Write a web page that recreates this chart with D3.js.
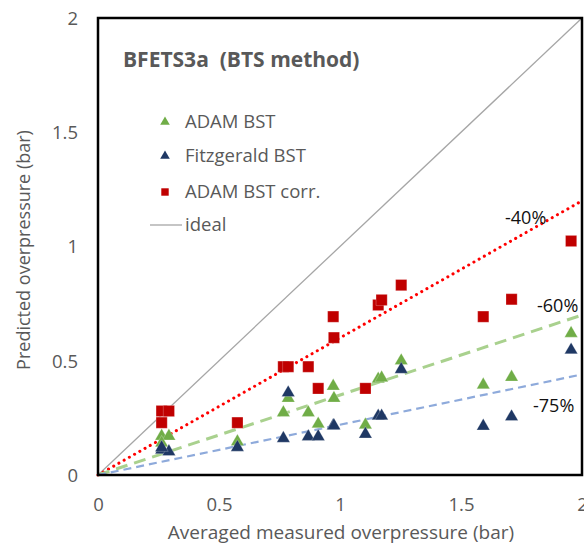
<!DOCTYPE html>
<html><head><meta charset="utf-8">
<script src="https://cdn.jsdelivr.net/npm/d3@7"></script>
<style>body{margin:0;background:#fff;overflow:hidden} text{font-family:"Open Sans",sans-serif}</style>
</head><body><svg id="c" width="584" height="543"></svg>
<script>
// ---- data ----
const measured   = [0.263,0.293,0.263,0.576,0.766,0.786,0.869,0.910,0.972,0.975,1.105,1.158,1.172,1.253,1.592,1.709,1.955];
const adamBST    = [0.170,0.170,0.140,0.146,0.273,0.336,0.273,0.223,0.389,0.336,0.219,0.420,0.425,0.500,0.394,0.428,0.620];
const fitzBST    = [0.110,0.102,0.120,0.121,0.160,0.360,0.168,0.168,0.216,0.216,0.179,0.258,0.258,0.462,0.214,0.255,0.547];
const adamCorr   = [0.280,0.280,0.229,0.229,0.474,0.474,0.474,0.379,0.693,0.601,0.379,0.744,0.766,0.831,0.693,0.769,1.024];
const xTicks = [0,0.5,1,1.5,2];
const yTicks = [0,0.5,1,1.5,2];
const refNames  = ["-40%","-60%","-75%"];
const refSlopes = [0.60,0.35,0.22];
const idealSlope = 1;
const legendNames = ["ADAM BST","Fitzgerald BST","ADAM BST corr.","ideal"];

// ---- layout ----
const svg = d3.select("#c");
const L=98, R=582, T=18, B=475;
const x = d3.scaleLinear().domain([0,2]).range([L,R]);
const y = d3.scaleLinear().domain([0,2]).range([B,T]);
const grey="#595959";

// reference lines
const lineStyles = [
  {stroke:"#ff0000", w:3, dash:"0.1 5.9", cap:"round"},
  {stroke:"#a9d18e", w:3, dash:"12 7", cap:"butt"},
  {stroke:"#8eaadb", w:2.2, dash:"8 5", cap:"butt"}
];
svg.append("line").attr("x1",x(0)).attr("y1",y(0)).attr("x2",x(2)).attr("y2",y(2*idealSlope))
  .attr("stroke","#a6a6a6").attr("stroke-width",1.3);
refSlopes.forEach((s,i)=>{
  const st=lineStyles[i];
  svg.append("line").attr("x1",x(0)).attr("y1",y(0)).attr("x2",x(2)).attr("y2",y(2*s))
    .attr("stroke",st.stroke).attr("stroke-width",st.w).attr("stroke-dasharray",st.dash)
    .attr("stroke-linecap",st.cap);
});

// markers
const tri = d3.symbol().type(d3.symbolTriangle).size(75);
const sq  = d3.symbol().type(d3.symbolSquare).size(125);
function series(vals, gen, color){
  svg.append("g").selectAll("path").data(vals).join("path")
    .attr("d",gen)
    .attr("transform",(d,i)=>`translate(${x(measured[i])},${y(d)})`)
    .attr("fill",color).attr("stroke","#fff").attr("stroke-width",0.4).attr("stroke-opacity",0.6);
}
series(adamBST, tri, "#70ad47");
series(fitzBST, tri, "#1f3864");
series(adamCorr, sq, "#c00000");

// frame
svg.append("rect").attr("x",L).attr("y",T).attr("width",R-L).attr("height",B-T)
  .attr("fill","none").attr("stroke","#000").attr("stroke-width",2.5);

// axes
const ax = svg.append("g").attr("transform",`translate(0,${B+20})`)
  .call(d3.axisBottom(x).tickValues(xTicks).tickSize(0).tickFormat(d3.format("")));
const ay = svg.append("g").attr("transform",`translate(${L-17},0)`)
  .call(d3.axisLeft(y).tickValues(yTicks).tickSize(0).tickFormat(d3.format("")));
[ax,ay].forEach(a=>{a.select(".domain").remove();
  a.selectAll("text").attr("fill",grey).attr("font-size",18.5).attr("font-family","Open Sans, sans-serif");});
ay.selectAll("text").attr("dy","0.35em");

svg.append("text").attr("x",341).attr("y",539).attr("text-anchor","middle")
  .attr("fill",grey).attr("font-size",19).text("Averaged measured overpressure (bar)");
svg.append("text").attr("transform","translate(30,250) rotate(-90)").attr("text-anchor","middle")
  .attr("fill",grey).attr("font-size",18).text("Predicted overpressure (bar)");

// title
svg.append("text").attr("x",123).attr("y",67).attr("fill",grey).attr("font-size",21)
  .attr("font-weight","bold").attr("xml:space","preserve").text("BFETS3a  (BTS method)");

// reference labels
const refLabelPos = [[505,224],[537,312],[533,412]];
refNames.forEach((n,i)=>{
  svg.append("text").attr("x",refLabelPos[i][0]).attr("y",refLabelPos[i][1])
    .attr("fill","#111").attr("font-size",18).text(n);
});

// legend
const lg = svg.append("g");
const rowsY=[122,156,192,225];
const lgTri = d3.symbol().type(d3.symbolTriangle).size(40);
const lgSq  = d3.symbol().type(d3.symbolSquare).size(55);
lg.append("path").attr("d",lgTri).attr("transform",`translate(165,${rowsY[0]})`).attr("fill","#70ad47");
lg.append("path").attr("d",lgTri).attr("transform",`translate(165,${rowsY[1]})`).attr("fill","#1f3864");
lg.append("path").attr("d",lgSq).attr("transform",`translate(165,${rowsY[2]})`).attr("fill","#c00000");
lg.append("line").attr("x1",150).attr("x2",182).attr("y1",rowsY[3]).attr("y2",rowsY[3]).attr("stroke","#a6a6a6").attr("stroke-width",1.3);
legendNames.forEach((n,i)=>{
  lg.append("text").attr("x",185).attr("y",rowsY[i]).attr("dy","0.35em")
    .attr("fill",grey).attr("font-size",18.5).text(n);
});
</script></body></html>
